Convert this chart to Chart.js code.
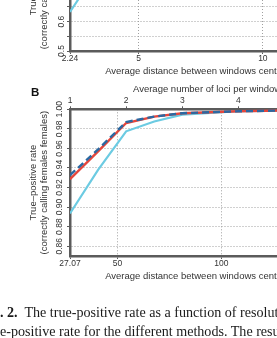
<!DOCTYPE html>
<html>
<head>
<meta charset="utf-8">
<script src="https://cdn.jsdelivr.net/npm/chart.js@4"></script>
<style>
  html, body { margin: 0; padding: 0; background: #fff; }
  body { position: relative; width: 277px; height: 338px; overflow: hidden; }
  .panel { position: absolute; left: 0; width: 330px; height: 210px; }
  #panelA { top: -125px; }
  #panelB { top: 80px; }
  .letter { position: absolute; left: 31px; top: 87px; font: bold 11.5px/11.5px "Liberation Sans", Arial, sans-serif; color: #111; }
  .toptitle { position: absolute; left: 133px; top: 83px; white-space: nowrap; font: 9.5px/12px "Liberation Sans", Arial, sans-serif; color: #333; }
  .caption { position: absolute; white-space: nowrap; font: 14.1px/16px "Liberation Serif", "Times New Roman", serif; color: #1a1a1a; }
</style>
</head>
<body>
<div class="panel" id="panelA"><canvas id="chartA"></canvas></div>
<div class="panel" id="panelB"><canvas id="chartB"></canvas></div>
<div class="letter">B</div>
<div class="toptitle">Average number of loci per window</div>
<div class="caption" style="left:-19.6px; top:304px;"><b>Fig. 2.</b>&nbsp; The true-positive rate as a function of resolution, and the</div>
<div class="caption" style="left:-20.4px; top:323px;">false-positive rate for the different methods. The results</div>

<script>
// Panel A - only the bottom of it is in view
const aDistance = [2.24, 5, 10, 12.5];
const aRed  = [0.95, 0.997, 0.999, 1.0];
const aBlue = [0.955, 0.997, 0.999, 1.0];
const aCyan = [0.633, 0.985, 0.997, 0.999];
const aXTicks = [2.24, 5, 10];
const aYTicks = [0.5, 0.55, 0.6, 0.65, 0.7, 0.75, 0.8, 0.85, 0.9, 0.95, 1.0];

// Panel B
const bDistance = [27.07, 40.6, 54.14, 67.68, 81.21, 108.28, 135.35, 150];
const bRed  = [0.9285, 0.957, 0.986, 0.9925, 0.996, 0.998, 0.999, 0.999];
const bBlue = [0.9326, 0.959, 0.987, 0.9925, 0.996, 0.998, 0.999, 0.999];
const bCyan = [0.8935, 0.938, 0.9775, 0.9875, 0.9945, 0.998, 0.9985, 0.999];
const bXTicks = [27.07, 50, 100];
const bTopTicks = [1, 2, 3, 4, 5];
const bYTicks = [0.86, 0.88, 0.90, 0.92, 0.94, 0.96, 0.98, 1.00];

const lociUnit = 27.07; // distance for one locus per window

Chart.defaults.font.family = '"Liberation Sans", Arial, Helvetica, sans-serif';
Chart.defaults.color = '#333';

const axisColor = '#5b5b5b';
const gridColor = '#a0a0a0';

function pts(xs, ys) {
  return xs.map((x, i) => ({x: x, y: ys[i]}));
}

function series(xs, red, blue, cyan) {
  return [
    {label: 'Method 1', data: pts(xs, blue), borderColor: '#2b69a2', borderWidth: 2.4, borderDash: [7, 4], order: 0},
    {label: 'Method 2', data: pts(xs, red), borderColor: '#e5463c', borderWidth: 2.4, order: 1},
    {label: 'Method 3', data: pts(xs, cyan), borderColor: '#6ccbe2', borderWidth: 2.2, order: 2}
  ];
}

function fixTicks(list) {
  return scale => { scale.ticks = list.map(v => ({value: v})); };
}

function xAxis(min, max, ticks, title) {
  return {
    type: 'linear', position: 'bottom', min: min, max: max,
    afterBuildTicks: fixTicks(ticks),
    afterFit: s => { s.height = 34; },
    ticks: {font: {size: 8.5}, padding: 0, maxRotation: 0, autoSkip: false, callback: v => String(v)},
    grid: {color: gridColor, lineWidth: 1, tickColor: axisColor, tickLength: 3},
    border: {color: axisColor, width: 2.5, dash: [1, 2]},
    title: {display: true, text: title, font: {size: 9.5}, padding: {top: 0, bottom: 8}}
  };
}

function yAxis(min, max, ticks, label) {
  return {
    min: min, max: max,
    afterBuildTicks: fixTicks(ticks),
    afterFit: s => { s.width = 70; },
    ticks: {font: {size: 8.5}, minRotation: 90, maxRotation: 90, crossAlign: 'center', padding: -1, autoSkip: false, callback: label},
    grid: {color: gridColor, lineWidth: 1, tickColor: axisColor, tickLength: 3},
    border: {color: axisColor, width: 2.5, dash: [1, 2]},
    title: {display: true, text: ['True\u2013positive rate', '(correctly calling females females)'],
            font: {size: 9.5, lineHeight: 1.25}, padding: {top: 27}}
  };
}

const common = {
  responsive: true,
  maintainAspectRatio: false,
  animation: false,
  elements: {point: {radius: 0}, line: {tension: 0}},
  plugins: {legend: {display: false}, tooltip: {enabled: false}}
};

new Chart(document.getElementById('chartA'), {
  type: 'line',
  data: {datasets: series(aDistance, aRed, aBlue, aCyan)},
  options: {
    ...common,
    layout: {padding: {top: 29, right: 5, left: 0, bottom: 0}},
    scales: {
      x: xAxis(2.24, 12.5, aXTicks, 'Average distance between windows centers'),
      y: yAxis(0.5, 1.0, aYTicks, v => (Math.round(v * 100) % 10 === 0 ? v.toFixed(1) : ''))
    }
  }
});

new Chart(document.getElementById('chartB'), {
  type: 'line',
  data: {datasets: series(bDistance, bRed, bBlue, bCyan)},
  options: {
    ...common,
    layout: {padding: {top: 0, right: 5, left: 0, bottom: 0}},
    scales: {
      x: xAxis(27.07, 150, bXTicks, 'Average distance between windows centers'),
      y: yAxis(0.85, 1.0, bYTicks, v => v.toFixed(2)),
      xTop: {
        type: 'linear', position: 'top', min: 1, max: 150 / lociUnit,
        afterBuildTicks: fixTicks(bTopTicks),
        afterFit: s => { s.height = 29.3; },
        ticks: {font: {size: 8.5}, padding: 1, maxRotation: 0, autoSkip: false},
        grid: {drawOnChartArea: false, tickColor: axisColor, tickLength: 3},
        border: {color: axisColor, width: 2.5},
        title: {display: false}
      }
    }
  }
});
</script>
</body>
</html>
